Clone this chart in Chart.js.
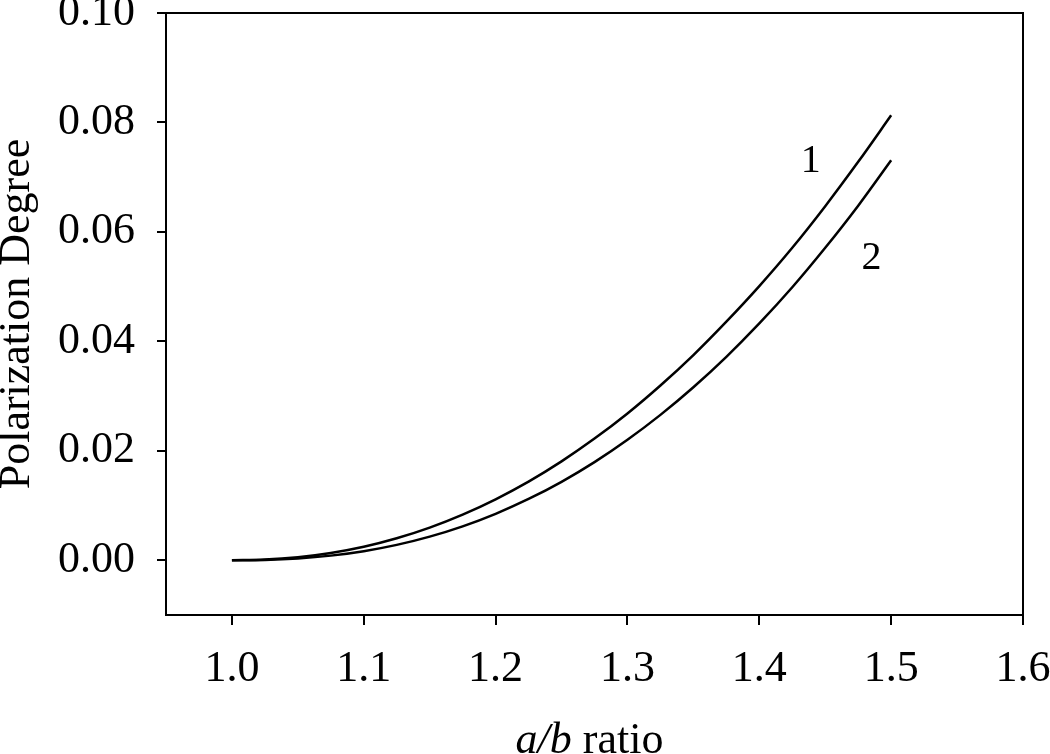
<!DOCTYPE html>
<html>
<head>
<meta charset="utf-8">
<script src="https://cdn.jsdelivr.net/npm/chart.js@4/dist/chart.umd.min.js"></script>
<style>
  html, body { margin: 0; padding: 0; background: #fff; }
  #wrap { width: 1050px; height: 754px; }
</style>
</head>
<body>
<div id="wrap"><canvas id="polChart"></canvas></div>
<script>
// a/b ratio (x) and polarization degree for curves 1 and 2
const ratio = [1.0, 1.025, 1.05, 1.075, 1.1, 1.125, 1.15, 1.175, 1.2, 1.225, 1.25,
  1.275, 1.3, 1.325, 1.35, 1.375, 1.4, 1.425, 1.45, 1.475, 1.5];
const degree1 = [0, 0.00012, 0.00055, 0.00133, 0.00247, 0.00402, 0.00597, 0.00834,
  0.01114, 0.01437, 0.01807, 0.02223, 0.02683, 0.03194, 0.0375, 0.0436, 0.0501,
  0.0571, 0.0647, 0.0728, 0.0813];
const degree2 = [0, 0.00006, 0.00033, 0.00085, 0.00166, 0.00281, 0.00432, 0.0062,
  0.00849, 0.0112, 0.01434, 0.01794, 0.02202, 0.02657, 0.03162, 0.03718, 0.04328,
  0.04989, 0.0571, 0.0648, 0.0731];

const xTicks = [1.0, 1.1, 1.2, 1.3, 1.4, 1.5, 1.6];
const yTicks = [0, 0.02, 0.04, 0.06, 0.08, 0.10];

// curve number labels, placed in data coordinates
const curveNames = ["1", "2"];
const curveNameX = [1.439, 1.485];
const curveNameY = [0.0729, 0.0552];

const SERIF = "'Liberation Serif', 'Times New Roman', serif";

const toPoints = (ys) => ratio.map((x, i) => ({ x: x, y: ys[i] }));

// top/right frame, curve numbers and the mixed-style x title
const extras = {
  id: "extras",
  afterDraw(chart) {
    const { ctx, chartArea } = chart;
    const xs = chart.scales.x;
    const ys = chart.scales.y;
    ctx.save();
    ctx.strokeStyle = "#000";
    ctx.lineWidth = 2;
    ctx.beginPath();
    ctx.moveTo(chartArea.left, chartArea.top);
    ctx.lineTo(chartArea.right, chartArea.top);
    ctx.lineTo(chartArea.right, chartArea.bottom);
    ctx.stroke();

    ctx.fillStyle = "#000";
    ctx.font = "40px " + SERIF;
    ctx.textAlign = "center";
    ctx.textBaseline = "middle";
    curveNames.forEach((t, i) => {
      ctx.fillText(t, xs.getPixelForValue(curveNameX[i]), ys.getPixelForValue(curveNameY[i]));
    });

    // x axis title: italic "a/b" + " ratio"
    const part1 = "a/b";
    const part2 = " ratio";
    ctx.textBaseline = "alphabetic";
    ctx.textAlign = "left";
    ctx.font = "italic 44px " + SERIF;
    const w1 = ctx.measureText(part1).width;
    ctx.font = "44px " + SERIF;
    const w2 = ctx.measureText(part2).width;
    const cx = (chartArea.left + chartArea.right) / 2 - 5;
    const baseY = xs.top + 138;
    let sx = cx - (w1 + w2) / 2;
    ctx.font = "italic 44px " + SERIF;
    ctx.fillText(part1, sx, baseY);
    ctx.font = "44px " + SERIF;
    ctx.fillText(part2, sx + w1, baseY);
    ctx.restore();
  },
};

const ctx = document.getElementById("polChart");
const chart = new Chart(ctx, {
  type: "line",
  data: {
    datasets: [
      {
        label: "1",
        data: toPoints(degree1),
        borderColor: "#000",
        borderWidth: 2.5,
        pointRadius: 0,
        cubicInterpolationMode: "monotone",
        fill: false,
      },
      {
        label: "2",
        data: toPoints(degree2),
        borderColor: "#000",
        borderWidth: 2.5,
        pointRadius: 0,
        cubicInterpolationMode: "monotone",
        fill: false,
      },
    ],
  },
  options: {
    responsive: true,
    maintainAspectRatio: false,
    animation: false,
    layout: { padding: { top: 13, right: 27, left: 0, bottom: 0 } },
    plugins: { legend: { display: false }, tooltip: { enabled: false } },
    scales: {
      x: {
        type: "linear",
        min: 0.95,
        max: 1.6,
        afterBuildTicks: (scale) => {
          scale.ticks = xTicks.map((v) => ({ value: v }));
        },
        afterFit: (scale) => {
          scale.height = 139;
          scale.paddingLeft = 0;
          scale.paddingRight = 0;
        },
        grid: {
          display: true,
          drawOnChartArea: false,
          drawTicks: true,
          tickLength: 10,
          color: "#000",
          lineWidth: 2,
        },
        border: { display: true, color: "#000", width: 2 },
        ticks: {
          color: "#000",
          padding: 18,
          maxRotation: 0,
          font: { family: SERIF, size: 44, lineHeight: 1.2 },
          callback: (v) => Number(v).toFixed(1),
        },
      },
      y: {
        type: "linear",
        min: -0.01,
        max: 0.1,
        afterBuildTicks: (scale) => {
          scale.ticks = yTicks.map((v) => ({ value: v }));
        },
        afterFit: (scale) => {
          scale.width = 166;
          scale.paddingTop = 0;
          scale.paddingBottom = 0;
        },
        grid: {
          display: true,
          drawOnChartArea: false,
          drawTicks: true,
          tickLength: 9,
          color: "#000",
          lineWidth: 2,
        },
        border: { display: true, color: "#000", width: 2 },
        ticks: {
          color: "#000",
          padding: 22,
          font: { family: SERIF, size: 44, lineHeight: 0.5 },
          callback: (v) => Number(v).toFixed(2),
        },
        title: {
          display: true,
          text: "Polarization Degree",
          color: "#000",
          padding: 0,
          font: { family: SERIF, size: 44, lineHeight: 0.77 },
        },
      },
    },
  },
  plugins: [extras],
});
</script>
</body>
</html>
